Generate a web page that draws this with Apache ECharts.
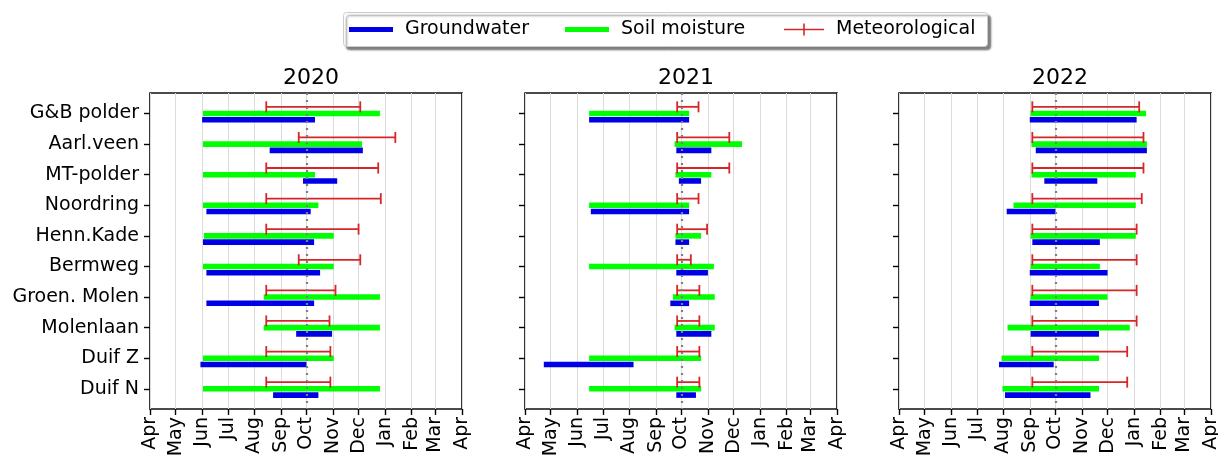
<!DOCTYPE html>
<html>
<head>
<meta charset="utf-8">
<script src="https://cdn.jsdelivr.net/npm/echarts@6/dist/echarts.min.js"></script>
<style>
  html, body { margin: 0; padding: 0; background: #ffffff; }
  #chart { width: 1218px; height: 461px; }
</style>
</head>
<body>
<div id="chart"></div>
<script>
// Drought periods per site, one panel per year.
// Every range is [start, end] in days counted from 1 April of the panel's year.
const sites = ['G&B polder', 'Aarl.veen', 'MT-polder', 'Noordring', 'Henn.Kade',
               'Bermweg', 'Groen. Molen', 'Molenlaan', 'Duif Z', 'Duif N'];
const years = ['2020', '2021', '2022'];

const monthStarts = [0, 30, 61, 91, 122, 153, 183, 214, 244, 275, 306, 334, 365];
const monthLabels = ['Apr', 'May', 'Jun', 'Jul', 'Aug', 'Sep', 'Oct',
                     'Nov', 'Dec', 'Jan', 'Feb', 'Mar', 'Apr'];
const octoberDay = 183;

const groundwater2020 = [[61, 193], [140, 249], [179, 219], [66, 188], [62, 192],
                         [66, 199], [66, 192], [171, 213], [59, 183], [144, 197]];
const soil2020 = [[62, 269], [62, 248], [62, 193], [62, 197], [63, 215],
                  [62, 215], [133, 269], [133, 269], [62, 215], [62, 269]];
const meteo2020 = [[136, 246], [174, 287], [136, 267], [136, 270], [136, 244],
                   [174, 246], [136, 217], [136, 210], [136, 211], [136, 211]];

const groundwater2021 = [[75, 192], [177, 218], [180, 206], [77, 192], [176, 192],
                         [177, 214], [170, 192], [177, 218], [22, 127], [177, 200]];
const soil2021 = [[75, 192], [175, 254], [176, 218], [75, 192], [176, 206],
                  [75, 221], [173, 222], [175, 222], [75, 206], [75, 206]];
const meteo2021 = [[178, 203], [178, 239], [178, 239], [178, 203], [178, 213],
                   [178, 194], [178, 204], [178, 204], [178, 204], [178, 204]];

const groundwater2022 = [[153, 278], [160, 290], [170, 232], [126, 183], [156, 235],
                         [153, 244], [153, 234], [154, 234], [117, 181], [124, 224]];
const soil2022 = [[154, 289], [155, 290], [155, 277], [134, 277], [154, 277],
                  [154, 235], [154, 244], [127, 270], [120, 234], [121, 234]];
const meteo2022 = [[156, 281], [156, 286], [156, 286], [156, 284], [156, 278],
                   [156, 278], [156, 278], [156, 278], [156, 267], [156, 267]];

const groundwater = [groundwater2020, groundwater2021, groundwater2022];
const soil = [soil2020, soil2021, soil2022];
const meteo = [meteo2020, meteo2021, meteo2022];

const COLORS = { groundwater: '#0000e6', soil: '#00ff00', meteo: '#d62728' };
const FONT = 'DejaVu Sans';

// panel geometry
const panelLeft = [150, 525, 899];
const panelWidth = 312;
const panelTop = 93;
const panelHeight = 316;

function rows(ranges) {
  return ranges.map((r, i) => [r[0], r[1], i]);
}

function barRenderer(offset, thickness) {
  return function (params, api) {
    const row = api.value(2) + offset;
    const a = api.coord([api.value(0), row]);
    const b = api.coord([api.value(1), row]);
    return {
      type: 'rect',
      shape: { x: a[0], y: a[1] - thickness / 2, width: b[0] - a[0], height: thickness },
      style: api.style()
    };
  };
}

function rangeRenderer(offset, capHalf) {
  return function (params, api) {
    const row = api.value(2) + offset;
    const a = api.coord([api.value(0), row]);
    const b = api.coord([api.value(1), row]);
    const st = { stroke: COLORS.meteo, lineWidth: 1.8, fill: null };
    return {
      type: 'group',
      children: [
        { type: 'line', shape: { x1: a[0], y1: a[1], x2: b[0], y2: b[1] }, style: st },
        { type: 'line', shape: { x1: a[0], y1: a[1] - capHalf, x2: a[0], y2: a[1] + capHalf }, style: st },
        { type: 'line', shape: { x1: b[0], y1: b[1] - capHalf, x2: b[0], y2: b[1] + capHalf }, style: st }
      ]
    };
  };
}

const grids = [], xAxes = [], yAxes = [], series = [], titles = [];

years.forEach((year, p) => {
  grids.push({
    left: panelLeft[p], top: panelTop, width: panelWidth, height: panelHeight,
    show: true, borderColor: '#111111', borderWidth: 1.7, backgroundColor: 'transparent'
  });
  titles.push({
    text: year, left: panelLeft[p] + panelWidth / 2, top: 62, textAlign: 'center',
    textStyle: { fontFamily: FONT, fontSize: 22, fontWeight: 'normal', color: '#000' }
  });
  xAxes.push({
    type: 'value', gridIndex: p, min: 0, max: 365, position: 'bottom',
    axisLine: { show: false, onZero: false },
    axisTick: { show: true, length: 6, lineStyle: { color: '#000', width: 1.4 }, customValues: monthStarts },
    // month names are written as rotated text below, at the tick positions of this axis
    axisLabel: { show: false },
    splitLine: { show: true, lineStyle: { color: '#dcdcdc', width: 1 } }
  });
  yAxes.push({
    type: 'value', gridIndex: p, min: -0.67, max: 9.66, inverse: true, position: 'left',
    axisLine: { show: false, onZero: false },
    axisTick: { show: true, length: 6, lineStyle: { color: '#000', width: 1.4 }, customValues: sites.map((s, i) => i) },
    axisLabel: {
      show: p === 0, margin: 11, fontFamily: FONT, fontSize: 19, color: '#000',
      customValues: sites.map((s, i) => i),
      formatter: v => sites[Math.round(v)]
    },
    splitLine: { show: false }
  });

  series.push({
    name: 'Groundwater', type: 'custom', xAxisIndex: p, yAxisIndex: p,
    renderItem: barRenderer(0.205, 5.6),
    itemStyle: { color: COLORS.groundwater },
    encode: { x: [0, 1], y: 2 },
    data: rows(groundwater[p]),
    clip: false,
    z: 2
  });
  series.push({
    name: 'Soil moisture', type: 'custom', xAxisIndex: p, yAxisIndex: p,
    renderItem: barRenderer(0, 5.6),
    itemStyle: { color: COLORS.soil },
    encode: { x: [0, 1], y: 2 },
    data: rows(soil[p]),
    clip: false,
    z: 2
  });
  series.push({
    name: 'Meteorological', type: 'custom', xAxisIndex: p, yAxisIndex: p,
    renderItem: rangeRenderer(-0.218, 5.5),
    itemStyle: { color: COLORS.meteo },
    encode: { x: [0, 1], y: 2 },
    data: rows(meteo[p]),
    clip: false,
    z: 3,
    markLine: {
      silent: true, symbol: ['none', 'none'], label: { show: false },
      lineStyle: { color: '#7f7f7f', type: [2, 5], width: 2.2 },
      data: [{ xAxis: octoberDay }]
    }
  });
});

const legendBase = {
  orient: 'horizontal', top: 20, padding: 0, itemGap: 0,
  selectedMode: true,
  textStyle: { fontFamily: FONT, fontSize: 19, color: '#000', padding: [0, 0, 0, 7] }
};

const legendBox = {
  type: 'rect', left: 343, top: 12, z: -10,
  shape: { width: 644, height: 34, r: 3 },
  style: {
    fill: '#ffffff', stroke: '#cccccc', lineWidth: 1,
    shadowBlur: 2, shadowOffsetX: 3, shadowOffsetY: 3, shadowColor: 'rgba(0,0,0,0.5)'
  }
};

const chart = echarts.init(document.getElementById('chart'), null, { renderer: 'canvas' });
chart.setOption({
  animation: false,
  backgroundColor: '#ffffff',
  title: titles,
  grid: grids,
  xAxis: xAxes,
  yAxis: yAxes,
  legend: [
    Object.assign({}, legendBase, {
      left: 349, itemWidth: 44, itemHeight: 5,
      data: [{ name: 'Groundwater', icon: 'rect' }]
    }),
    Object.assign({}, legendBase, {
      left: 565, itemWidth: 44, itemHeight: 5,
      data: [{ name: 'Soil moisture', icon: 'rect' }]
    }),
    Object.assign({}, legendBase, {
      left: 784, itemWidth: 40, itemHeight: 12,
      data: [{ name: 'Meteorological', icon: 'path://M0,5.2h40v1.6h-40z M19.2,0h1.6v12h-1.6z' }]
    })
  ],
  series: series
});

// Rotated month names under each panel, placed at the x axis tick positions.
const monthTexts = [];
years.forEach((year, p) => {
  monthStarts.forEach((day, k) => {
    const px = chart.convertToPixel({ xAxisIndex: p }, day);
    monthTexts.push({
      type: 'text', x: px, y: panelTop + panelHeight + 8, rotation: Math.PI / 2, silent: true,
      z: 100,
      style: {
        text: monthLabels[k], fontFamily: FONT, fontSize: 19, fill: '#000',
        align: 'right', verticalAlign: 'middle', textAlign: 'right', textVerticalAlign: 'middle'
      }
    });
  });
});

chart.setOption({ graphic: { elements: [legendBox].concat(monthTexts) } });
</script>
</body>
</html>
